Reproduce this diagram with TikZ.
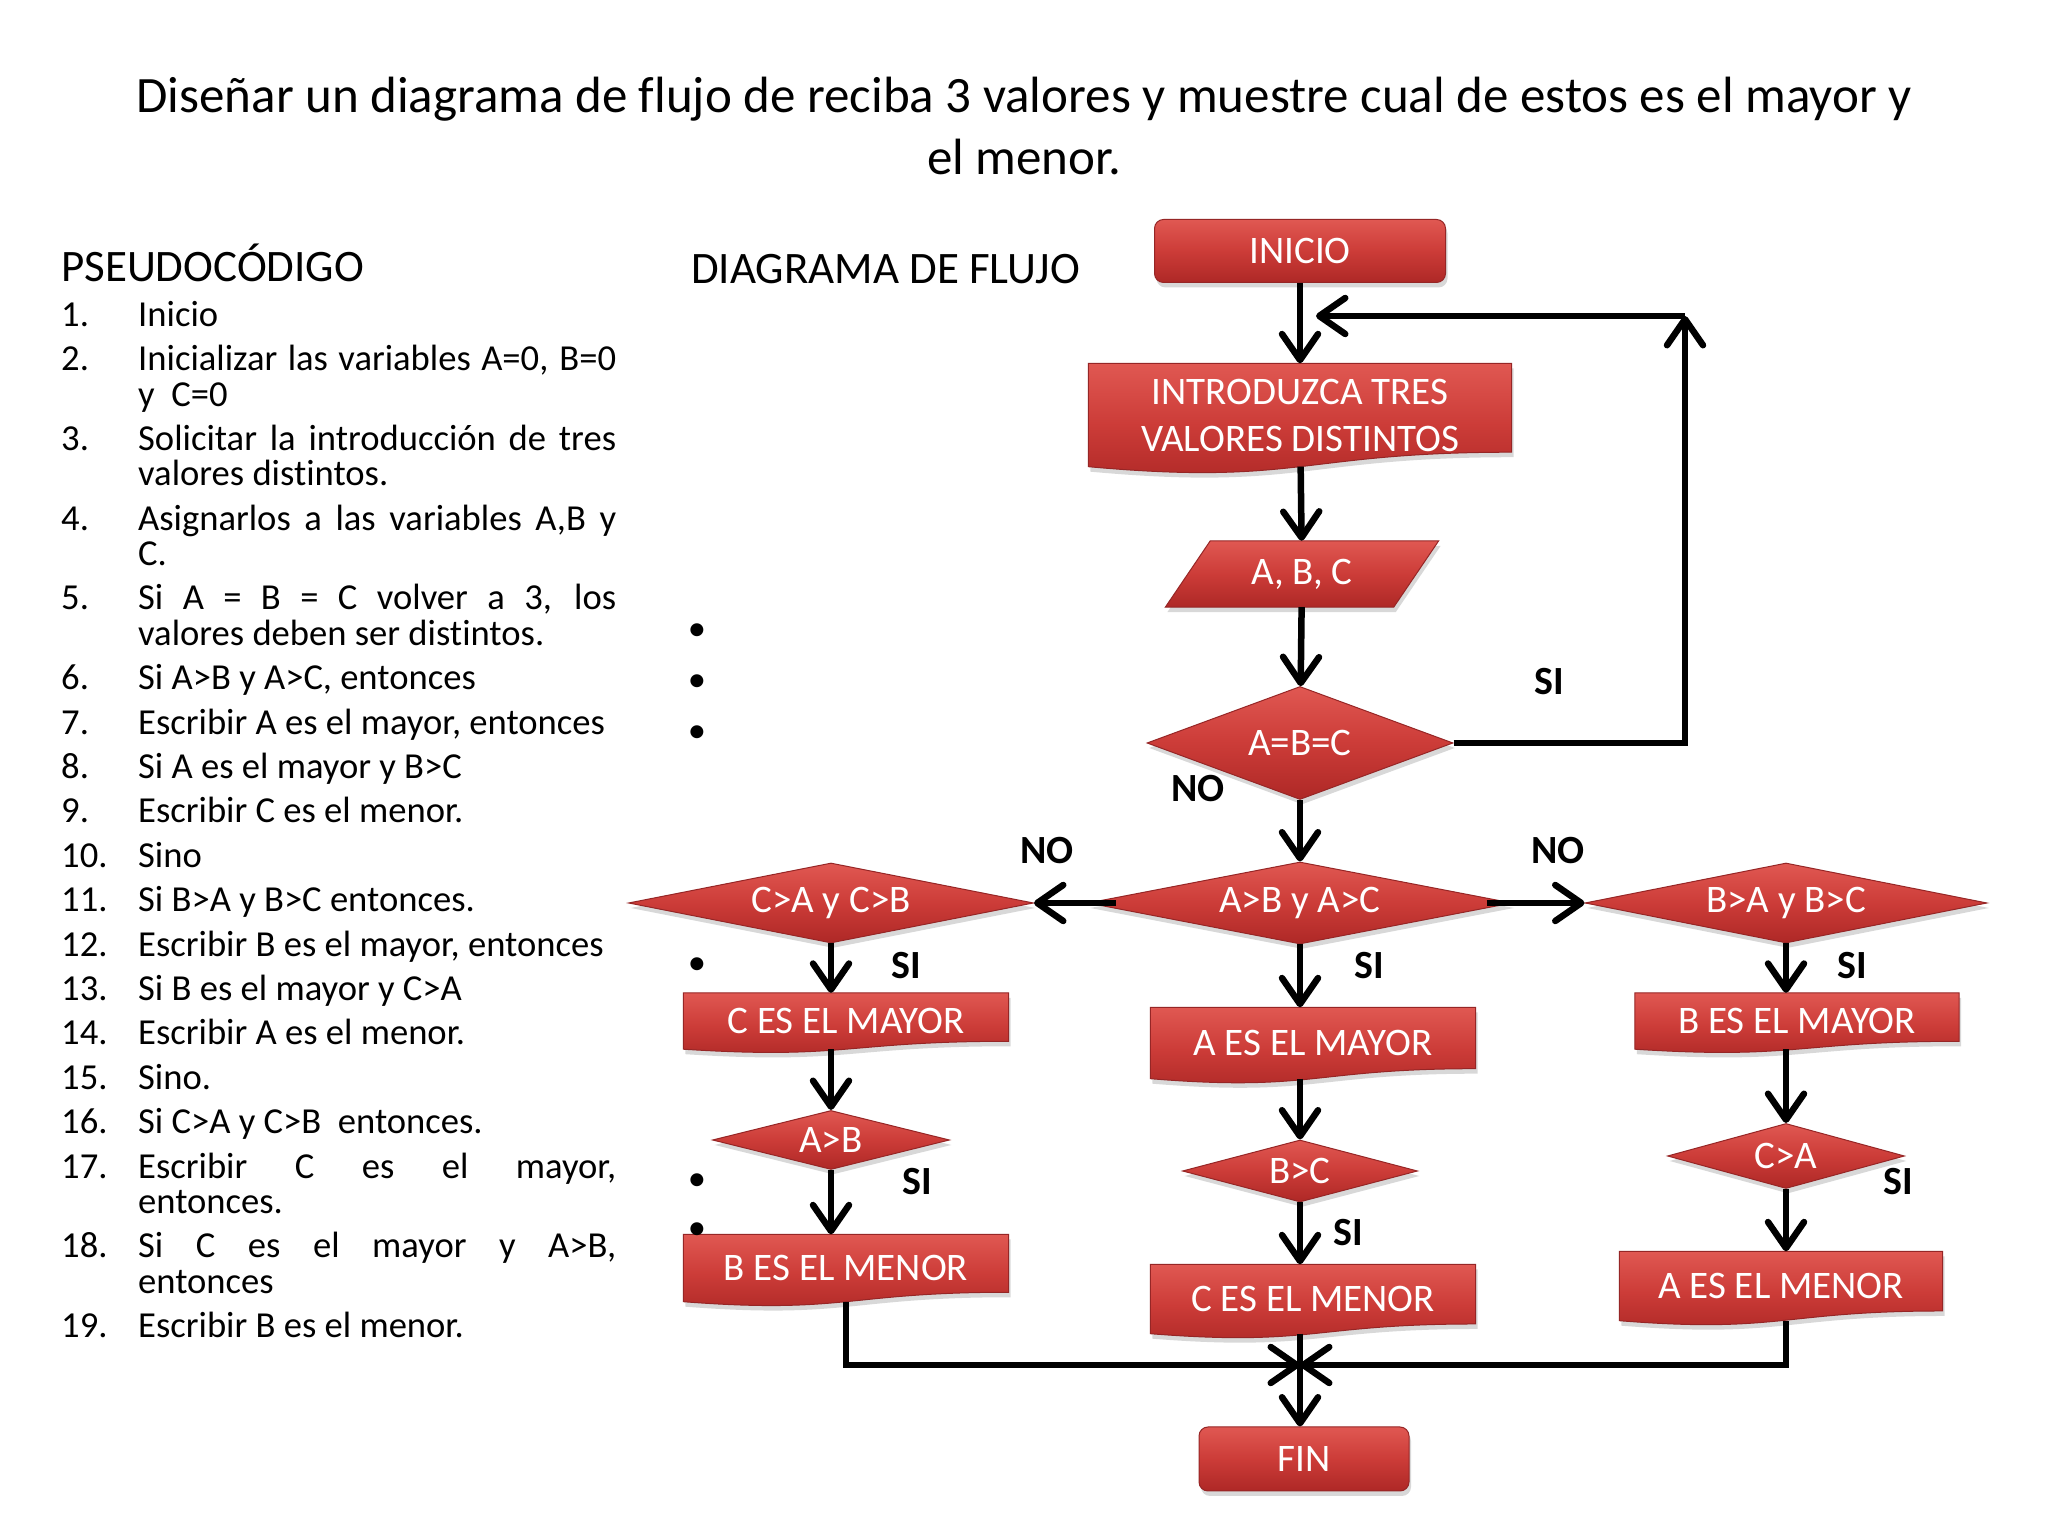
\documentclass[tikz,border=0pt]{standalone}
\usepackage{fontspec}
\setmainfont{Carlito}[Ligatures=CommonOff]
\usepackage{enumitem}
\usetikzlibrary{arrows.meta,positioning,shapes.geometric,calc,shadows,backgrounds}

\definecolor{redtop}{RGB}{224,88,82}
\definecolor{redmid}{RGB}{204,60,56}
\definecolor{redbot}{RGB}{174,40,38}
\definecolor{redline}{RGB}{150,38,38}
\newcommand\boxfont{\fontsize{39}{47}\selectfont}
\newcommand\listfont{\fontsize{36.6}{35.3}\selectfont}

\begin{document}
\begin{tikzpicture}[
    x=1pt, y=1pt,
    redshape/.style={draw=redline, line width=1pt, top color=redtop,
                     bottom color=redbot, middle color=redmid,
                     drop shadow={opacity=0.3, shadow xshift=2pt, shadow yshift=-5pt}},
    term/.style={redshape, rectangle, rounded corners=9pt, text=white,
                 font=\boxfont, inner sep=0pt},
    dec/.style={redshape, diamond, aspect=4, text=white, font=\boxfont, inner sep=0pt},
    doc/.style={rectangle, text=white, font=\boxfont, inner sep=0pt, align=center},
    lbl/.style={font=\fontsize{40}{44}\selectfont\bfseries},
    bul/.style={font=\listfont, inner sep=0pt},
    arrow/.style={-{Straight Barb[length=26pt,width=36pt,round]}, line width=6.5pt}
  ]
    \useasboundingbox (0,0) rectangle (2048,1536);

    % title and headings
    \node[font=\fontsize{51}{62}\selectfont, align=center] (title) at (1024,1410)
      {Diseñar un diagrama de flujo de reciba 3 valores y muestre cual de estos es el mayor y\\el menor.};
    \node[font=\fontsize{45}{50}\selectfont, anchor=west, inner sep=0pt] (pshead) at (61,1273) {PSEUDOCÓDIGO};
    \node[font=\fontsize{45}{50}\selectfont, anchor=west, inner sep=0pt] (dfhead) at (691,1267) {DIAGRAMA DE FLUJO};

    % pseudocode
    \node[anchor=north west, text width=555pt, inner sep=0pt, font=\listfont, align=justify] (pseudo) at (61,1245) {%
      \begin{enumerate}[label=\arabic*., leftmargin=77pt, labelwidth=77pt, labelsep=0pt,
                        align=left, itemsep=9.1pt, topsep=0pt, parsep=0pt, partopsep=0pt]
        \item Inicio
        \item Inicializar las variables A=0, B=0\linebreak y~ C=0
        \item Solicitar la introducción de tres\linebreak valores distintos.
        \item Asignarlos a las variables A,B y\linebreak C.
        \item Si A = B = C volver a 3, los\linebreak valores deben ser distintos.
        \item Si A>B y A>C, entonces
        \item Escribir A es el mayor, entonces
        \item Si A es el mayor y B>C
        \item Escribir C es el menor.
        \item Sino
        \item Si B>A y B>C entonces.
        \item Escribir B es el mayor, entonces
        \item Si B es el mayor y C>A
        \item Escribir A es el menor.
        \item Sino.
        \item Si C>A y C>B~ entonces.
        \item Escribir C es el mayor,\linebreak entonces.
        \item Si C es el mayor y A>B,\linebreak entonces
        \item Escribir B es el menor.
      \end{enumerate}};

    % stray bullets
    \foreach \y [count=\i] in {904,853,802,570,354,305}
      \node[bul] (bul\i) at (697,\y) {•};

    % main column
    \node[term, minimum width=291pt, minimum height=63pt] (inicio) at (1300,1285) {INICIO};
    \node[doc, minimum width=423pt, minimum height=103pt] (intro) at (1300,1121) {INTRODUZCA TRES\\VALORES DISTINTOS};
    \node[doc, minimum width=273pt, minimum height=66pt] (abc) at (1302,962) {A, B, C};
    \node[dec, minimum width=306pt, minimum height=113pt] (eq) at (1300,793) {A=B=C};
    \node[dec, minimum width=424pt, minimum height=82pt] (dmid) at (1300,633) {A>B y A>C};
    \node[dec, minimum width=405pt, minimum height=80pt] (dleft) at (831,633) {C>A y C>B};
    \node[dec, minimum width=402pt, minimum height=80pt] (dright) at (1786,633) {B>A y B>C};

    % left branch
    \node[doc, minimum width=325pt, minimum height=56pt] (cmay) at (846,515) {C ES EL MAYOR};
    \node[dec, minimum width=237pt, minimum height=59pt] (ab) at (831,396) {A>B};
    \node[doc, minimum width=325pt, minimum height=67pt] (bmen) at (846,268) {B ES EL MENOR};

    % middle branch
    \node[doc, minimum width=325pt, minimum height=71pt] (amay) at (1313,493) {A ES EL MAYOR};
    \node[dec, minimum width=235pt, minimum height=62pt] (bc) at (1300,365) {B>C};
    \node[doc, minimum width=325pt, minimum height=69pt] (cmen) at (1313,237) {C ES EL MENOR};

    % right branch
    \node[doc, minimum width=324pt, minimum height=56pt] (bmay) at (1797,515) {B ES EL MAYOR};
    \node[dec, minimum width=237pt, minimum height=65pt] (ca) at (1786,380) {C>A};
    \node[doc, minimum width=323pt, minimum height=69pt] (amen) at (1781,250) {A ES EL MENOR};

    \node[term, minimum width=210pt, minimum height=64pt] (fin) at (1304,77) {FIN};

    \coordinate (merge) at (1300,171);
    \coordinate (loopc) at (1685,1220);
    \coordinate (loope) at (1316,1220);

    % labels
    \node[lbl] (si0) at (1549,854) {SI};
    \node[lbl] (no0) at (1198,747) {NO};
    \node[lbl] (no1) at (1047,685) {NO};
    \node[lbl] (no2) at (1558,685) {NO};
    \node[lbl] (si1) at (906,570) {SI};
    \node[lbl] (si2) at (1369,570) {SI};
    \node[lbl] (si3) at (1852,570) {SI};
    \node[lbl] (si4) at (917,354) {SI};
    \node[lbl] (si5) at (1348,303) {SI};
    \node[lbl] (si6) at (1898,354) {SI};

    % connectors
    \draw[arrow] (inicio) -- (intro);
    \draw[arrow] (intro) -- (abc);
    \draw[arrow] (abc) -- (eq);
    \draw[arrow] (eq) -- (dmid);
    \draw[arrow] (eq.east) -| (loopc);
    \draw[arrow] (loopc) -- (loope);
    \draw[arrow] ([xshift=28pt]dmid.west) -- (dleft.east);
    \draw[arrow] ([xshift=-26pt]dmid.east) -- (dright.west);
    \draw[arrow] (dleft) -- (dleft |- cmay.north);
    \draw[arrow] (ab |- cmay.south) -- (ab);
    \draw[arrow] (ab) -- (ab |- bmen.north);
    \draw[arrow] (dmid) -- (dmid |- amay.north);
    \draw[arrow] (bc |- amay.south) -- (bc);
    \draw[arrow] (bc) -- (bc |- cmen.north);
    \draw[arrow] (dright) -- (dright |- bmay.north);
    \draw[arrow] (ca |- bmay.south) -- (ca);
    \draw[arrow] (ca) -- (ca |- amen.north);
    \draw[arrow] (bmen) |- (merge);
    \draw[arrow] (ca |- amen.south) |- (merge);
    \draw[arrow] (merge |- cmen.south) -- (merge |- fin.north);

    % box bodies behind the text
    \begin{scope}[on background layer]
      \fill[white] (0,0) rectangle (2048,1536);
      \foreach \n in {intro,cmay,bmen,amay,cmen,bmay,amen}
        \path[redshape] (\n.north west) -- (\n.north east)
          -- ($(\n.north east)!0.86!(\n.south east)$)
          .. controls ($(\n.north)!0.86!(\n.south)$) and ($(\n.north)!1.186!(\n.south)$) .. (\n.south west)
          -- cycle;
      \path[redshape] (abc.south west) -- ($(abc.south east)+(-45,0)$)
        -- (abc.north east) -- ($(abc.north west)+(45,0)$) -- cycle;
    \end{scope}
  \end{tikzpicture}
\end{document}
